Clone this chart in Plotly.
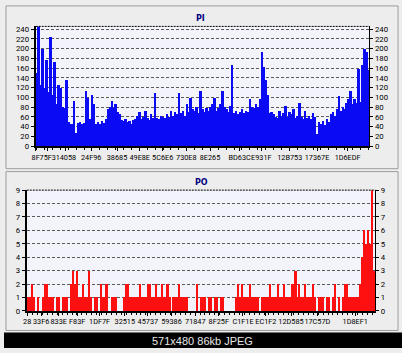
import plotly.graph_objects as go

# ---------------- data ----------------
pi_values = [150, 246, 125, 198, 118, 175, 110, 222, 105, 172,
             85, 125, 118, 80, 78, 135, 48, 45, 44, 92,
             27, 46, 48, 45, 47, 112, 98, 55, 105, 85,
             45, 48, 44, 50, 46, 55, 75, 80, 92, 78,
             85, 70, 65, 52, 50, 55, 48, 50, 44, 52,
             55, 62, 70, 56, 60, 72, 58, 52, 65, 58,
             108, 58, 55, 62, 60, 58, 65, 60, 72, 62,
             70, 65, 108, 68, 72, 62, 85, 70, 98, 75,
             72, 80, 68, 112, 75, 70, 78, 72, 80, 85,
             98, 72, 78, 85, 113, 80, 75, 70, 82, 165,
             68, 72, 65, 70, 75, 68, 72, 70, 95, 80,
             78, 85, 80, 95, 192, 162, 135, 105, 68, 70,
             65, 60, 58, 72, 62, 68, 82, 60, 70, 65,
             75, 58, 62, 88, 60, 55, 72, 58, 62, 55,
             68, 60, 25, 48, 45, 50, 42, 55, 48, 65,
             70, 62, 75, 102, 72, 80, 75, 88, 95, 112,
             85, 95, 88, 158, 90, 165, 198, 192, 155]

po_values = [1, 1, 2, 1, 0, 1, 0, 0, 1, 2,
             2, 1, 1, 1, 0, 1, 1, 0, 1, 1,
             1, 0, 2, 3, 2, 3, 1, 1, 2, 1,
             1, 3, 1, 0, 1, 1, 0, 2, 1, 1,
             2, 0, 0, 1, 1, 1, 0, 0, 0, 1,
             2, 2, 1, 1, 1, 1, 1, 2, 1, 1,
             1, 2, 2, 1, 1, 2, 1, 1, 2, 1,
             1, 2, 1, 0, 1, 1, 1, 2, 1, 1,
             1, 1, 0, 0, 0, 0, 2, 0, 1, 1,
             1, 0, 1, 1, 0, 1, 1, 0, 1, 1,
             0, 0, 0, 0, 0, 0, 1, 2, 1, 2,
             1, 1, 1, 2, 1, 1, 1, 1, 0, 1,
             1, 1, 1, 2, 1, 1, 1, 2, 1, 1,
             2, 1, 1, 1, 2, 2, 3, 1, 2, 1,
             1, 2, 1, 1, 1, 2, 1, 0, 1, 1,
             1, 0, 1, 1, 0, 1, 2, 0, 1, 0,
             1, 2, 2, 1, 1, 1, 1, 1, 1, 2,
             4, 6, 5, 6, 5, 9, 3]

pi_tick_labels = ["8F", "75F3", "14058", "24F96", "38685", "49E8E", "5C6E6",
                  "730E8", "8E265", "BD63C", "E931F", "12B753", "17367E", "1D6EDF"]
pi_tick_pos = [-0.5, 5.6, 14.8, 27.6, 40.7, 52.2, 63.8, 75.8, 87.8, 102.8,
               113.8, 128.2, 142, 157.5]

po_tick_labels = ["28", "33F6", "833E", "F83F", "1DF7F", "32515", "45737", "59386",
                  "71847", "8F25F", "C1F1E", "EC1F2", "12D585", "17C57D", "1D8EF1"]
po_tick_pos = [-0.3, 6.8, 15.7, 25.1, 36.5, 49.3, 61, 73, 85.1, 97, 109.3,
               120.9, 133.7, 147.1, 166.3]

pi_y_ticks = list(range(0, 241, 20))
po_y_ticks = list(range(0, 10))

# ---------------- layout helpers ----------------
W, H = 402, 353
def px(x):
    return x / W
def py(y):
    return 1 - y / H

FONT = "Roboto, Liberation Sans, Arial, sans-serif"
tickfont = dict(family=FONT, size=7.3, color="#000000")
ytickfont = dict(family=FONT, size=7.8, color="#000000")

pi_x = list(range(len(pi_values)))
po_x = list(range(len(po_values)))

fig = go.Figure()
fig.add_trace(go.Bar(x=pi_x, y=pi_values, xaxis="x", yaxis="y", width=1.0,
                     marker=dict(color="#0a0af5", line=dict(width=0)),
                     hoverinfo="skip", showlegend=False))
fig.add_trace(go.Scatter(x=pi_x, y=pi_values, xaxis="x", yaxis="y2", mode="lines",
                         line=dict(width=0), opacity=0, hoverinfo="skip", showlegend=False))
fig.add_trace(go.Bar(x=po_x, y=po_values, xaxis="x2", yaxis="y3", width=0.8,
                     marker=dict(color="#ff1010", line=dict(width=0)),
                     hoverinfo="skip", showlegend=False))
fig.add_trace(go.Scatter(x=po_x, y=po_values, xaxis="x2", yaxis="y4", mode="lines",
                         line=dict(width=0), opacity=0, hoverinfo="skip", showlegend=False))

pi_dom_x = [px(32), px(369)]
pi_dom_y = [py(146), py(23)]
po_dom_x = [px(23), px(375)]
po_dom_y = [py(315), py(191)]
pi_range = [0, 245.5]
po_range = [0, 9]

grid = dict(showgrid=True, gridcolor="#5a5a5a", gridwidth=1, griddash="3px,2px")

fig.update_layout(
    width=W, height=H, margin=dict(l=0, r=0, t=0, b=0),
    paper_bgcolor="#ededed", plot_bgcolor="#f3f3fb",
    bargap=0, barmode="overlay", showlegend=False,
    xaxis=dict(domain=pi_dom_x, range=[-0.5, len(pi_values) - 0.5], anchor="y",
               tickmode="array", tickvals=pi_tick_pos, ticktext=pi_tick_labels,
               tickangle=0,
               ticks="outside", ticklen=3, tickcolor="#000", tickfont=tickfont,
               showline=True, linecolor="#000", linewidth=1.5, showgrid=False,
               zeroline=False, fixedrange=True,
               minor=dict(tickmode="linear", tick0=0, dtick=4, ticks="outside",
                          ticklen=2, tickcolor="#000", showgrid=False)),
    yaxis=dict(domain=pi_dom_y, range=pi_range, anchor="x",
               tickmode="array", tickvals=pi_y_ticks, ticks="outside", ticklen=3,
               tickcolor="#000", tickfont=ytickfont, showline=True, linecolor="#000",
               linewidth=2, zeroline=False, **grid),
    yaxis2=dict(domain=pi_dom_y, range=pi_range, anchor="x", overlaying="y", side="right",
                tickmode="array", tickvals=pi_y_ticks, ticks="outside", ticklen=3,
                tickcolor="#000", tickfont=ytickfont, showline=True, linecolor="#000",
                linewidth=1, showgrid=False, zeroline=False),
    xaxis2=dict(domain=po_dom_x, range=[-0.5, len(po_values) - 0.5], anchor="y3",
                tickmode="array", tickvals=po_tick_pos, ticktext=po_tick_labels,
                tickangle=0,
                ticks="outside", ticklen=3, tickcolor="#000", tickfont=tickfont,
                showline=True, linecolor="#000", linewidth=1.5, showgrid=False,
                zeroline=False,
                minor=dict(tickmode="linear", tick0=0, dtick=2.5, ticks="outside",
                           ticklen=2, tickcolor="#000", showgrid=False)),
    yaxis3=dict(domain=po_dom_y, range=po_range, anchor="x2",
                tickmode="array", tickvals=po_y_ticks, ticks="outside", ticklen=3,
                tickcolor="#000", tickfont=ytickfont, showline=True, linecolor="#000",
                linewidth=2, zeroline=False, **grid),
    yaxis4=dict(domain=po_dom_y, range=po_range, anchor="x2", overlaying="y3", side="right",
                tickmode="array", tickvals=po_y_ticks, ticks="outside", ticklen=3,
                tickcolor="#000", tickfont=ytickfont, showline=True, linecolor="#000",
                linewidth=1, showgrid=False, zeroline=False),
)

shapes = [
    # panel frames
    dict(type="rect", xref="paper", yref="paper", x0=px(2), x1=px(398), y0=py(169), y1=py(2),
         line=dict(color="#9c9c9c", width=1), fillcolor="rgba(0,0,0,0)", layer="below"),
    dict(type="rect", xref="paper", yref="paper", x0=px(2), x1=px(398), y0=py(335), y1=py(172),
         line=dict(color="#9c9c9c", width=1), fillcolor="rgba(0,0,0,0)", layer="below"),
    # dotted top borders of plot areas
    dict(type="line", xref="x domain", yref="y domain", x0=0, x1=1, y0=1, y1=1,
         line=dict(color="#000", width=1, dash="2px,1px")),
    dict(type="line", xref="x2 domain", yref="y3 domain", x0=0, x1=1, y0=1, y1=1,
         line=dict(color="#000", width=1, dash="2px,1px")),
    # black strip at bottom
    dict(type="rect", xref="paper", yref="paper", x0=0, x1=1, y0=0, y1=py(337),
         line=dict(width=0), fillcolor="#000000", layer="above"),
]
fig.update_layout(shapes=shapes)

title_font = dict(family="DejaVu Sans, Arial, sans-serif", size=8, color="#000080")
fig.add_annotation(text="<b>PI</b>", xref="paper", yref="paper", x=px(198), y=py(15),
                   xanchor="center", yanchor="middle", showarrow=False, font=title_font)
fig.add_annotation(text="<b>PO</b>", xref="paper", yref="paper", x=px(199), y=py(183),
                   xanchor="center", yanchor="middle", showarrow=False, font=title_font)
fig.add_annotation(text="571x480 86kb JPEG", xref="paper", yref="paper", x=px(200),
                   y=py(345.5), xanchor="center", yanchor="middle", showarrow=False,
                   font=dict(family="Liberation Sans, Arial, sans-serif", size=11,
                             color="#e6e6e6"))

fig.write_html("out.html")
